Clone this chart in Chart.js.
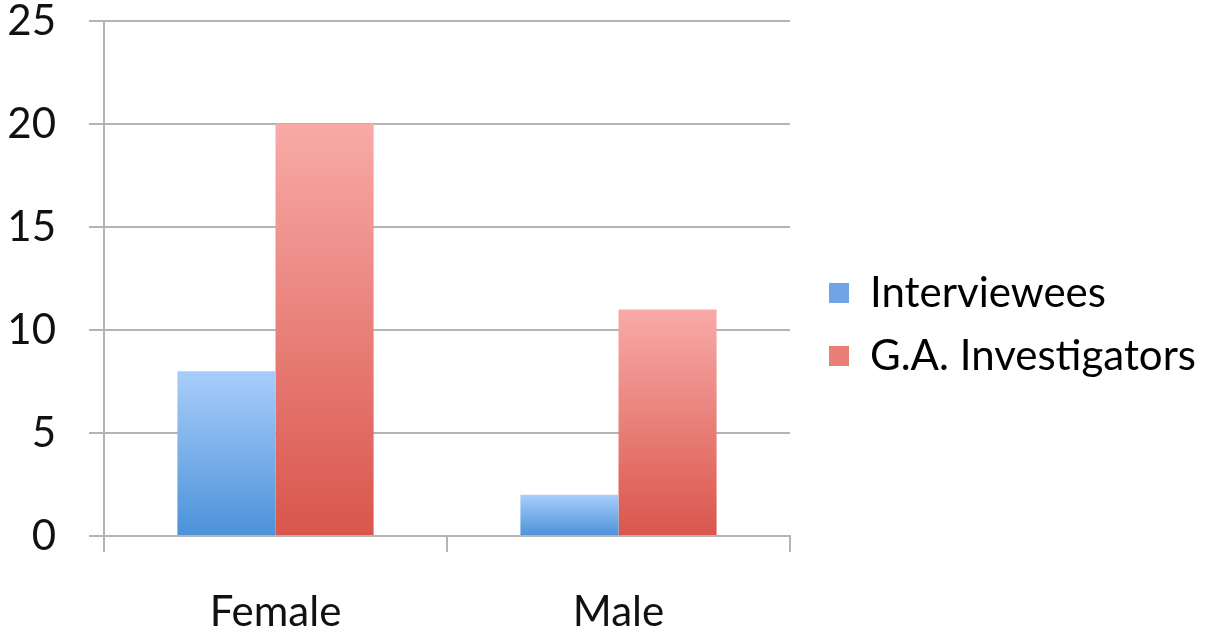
<!DOCTYPE html>
<html>
<head>
<meta charset="utf-8">
<title>Interviewees and G.A. Investigators by gender</title>
<script src="https://cdn.jsdelivr.net/npm/chart.js@4.4.1/dist/chart.umd.min.js"></script>
<style>
  html, body { margin: 0; padding: 0; background: #ffffff; }
  #wrap { width: 1223px; height: 635px; position: relative; }
</style>
</head>
<body>
<div id="wrap"><canvas id="chart" width="1223" height="635"></canvas></div>
<script>
// Categories and series
const categories = ['Female', 'Male'];
const interviewees = [8, 2];
const gaInvestigators = [20, 11];

// Value axis range and step
const yMin = 0;
const yMax = 25;
const yStep = 5;

const FONT = 'Lato, "Open Sans", "DejaVu Sans", sans-serif';
const FONT_SIZE = 42;
const GRID = '#b4b4b4';

// Each bar gets its own vertical gradient, light at the top, deeper at the base
function barGradient(topColor, bottomColor) {
  return (ctx) => {
    const chart = ctx.chart;
    const y = chart.scales && chart.scales.y;
    if (!y || ctx.type !== 'data' || !chart.chartArea) return bottomColor;
    const yTop = y.getPixelForValue(ctx.raw);
    const yBase = y.getPixelForValue(0);
    if (!isFinite(yTop) || !isFinite(yBase) || yTop === yBase) return bottomColor;
    const g = chart.ctx.createLinearGradient(0, yTop, 0, yBase);
    g.addColorStop(0, topColor);
    g.addColorStop(1, bottomColor);
    return g;
  };
}

const legendColors = ['#6fa5e6', '#ea7f78'];

new Chart(document.getElementById('chart'), {
  type: 'bar',
  data: {
    labels: categories,
    datasets: [
      {
        label: 'Interviewees',
        data: interviewees,
        backgroundColor: barGradient('#a9cdfa', '#4b92d8'),
        borderWidth: 0
      },
      {
        label: 'G.A. Investigators',
        data: gaInvestigators,
        backgroundColor: barGradient('#f8aaa7', '#d9564c'),
        borderWidth: 0
      }
    ]
  },
  options: {
    responsive: false,
    animation: false,
    events: [],
    layout: { padding: { left: 0, right: 17, top: 14, bottom: 0 } },
    datasets: {
      bar: { categoryPercentage: 0.572, barPercentage: 1.0 }
    },
    scales: {
      x: {
        offset: true,
        grid: {
          display: true,
          offset: true,
          drawOnChartArea: false,
          drawTicks: true,
          tickLength: 16,
          color: GRID,
          lineWidth: 2
        },
        border: { display: true, color: GRID, width: 2 },
        ticks: {
          color: '#111111',
          font: { family: FONT, size: FONT_SIZE },
          padding: 35
        },
        afterFit: (scale) => { scale.height = 99; }
      },
      y: {
        min: yMin,
        max: yMax,
        grid: {
          display: true,
          drawOnChartArea: true,
          drawTicks: true,
          tickLength: 15,
          color: GRID,
          lineWidth: 2
        },
        border: { display: true, color: GRID, width: 2 },
        ticks: {
          stepSize: yStep,
          color: '#111111',
          font: { family: FONT, size: FONT_SIZE },
          padding: 33
        },
        afterFit: (scale) => {
          scale.width = 104;
          scale.paddingTop = 21;
          scale.paddingBottom = 0;
        }
      },
      gap: {
        // spacer between the plot and the legend
        position: 'right',
        display: true,
        grid: { display: false },
        border: { display: false },
        ticks: { display: false },
        afterFit: (scale) => { scale.width = 18; }
      }
    },
    plugins: {
      tooltip: { enabled: false },
      legend: {
        position: 'right',
        align: 'center',
        maxWidth: 520,
        labels: {
          boxWidth: 20,
          boxHeight: 20,
          padding: 21,
          color: '#111111',
          font: { family: FONT, size: FONT_SIZE },
          generateLabels: (chart) => chart.data.datasets.map((ds, i) => ({
            text: ds.label,
            fillStyle: legendColors[i],
            strokeStyle: legendColors[i],
            lineWidth: 0,
            hidden: false,
            datasetIndex: i
          }))
        }
      }
    }
  }
});
</script>
</body>
</html>
